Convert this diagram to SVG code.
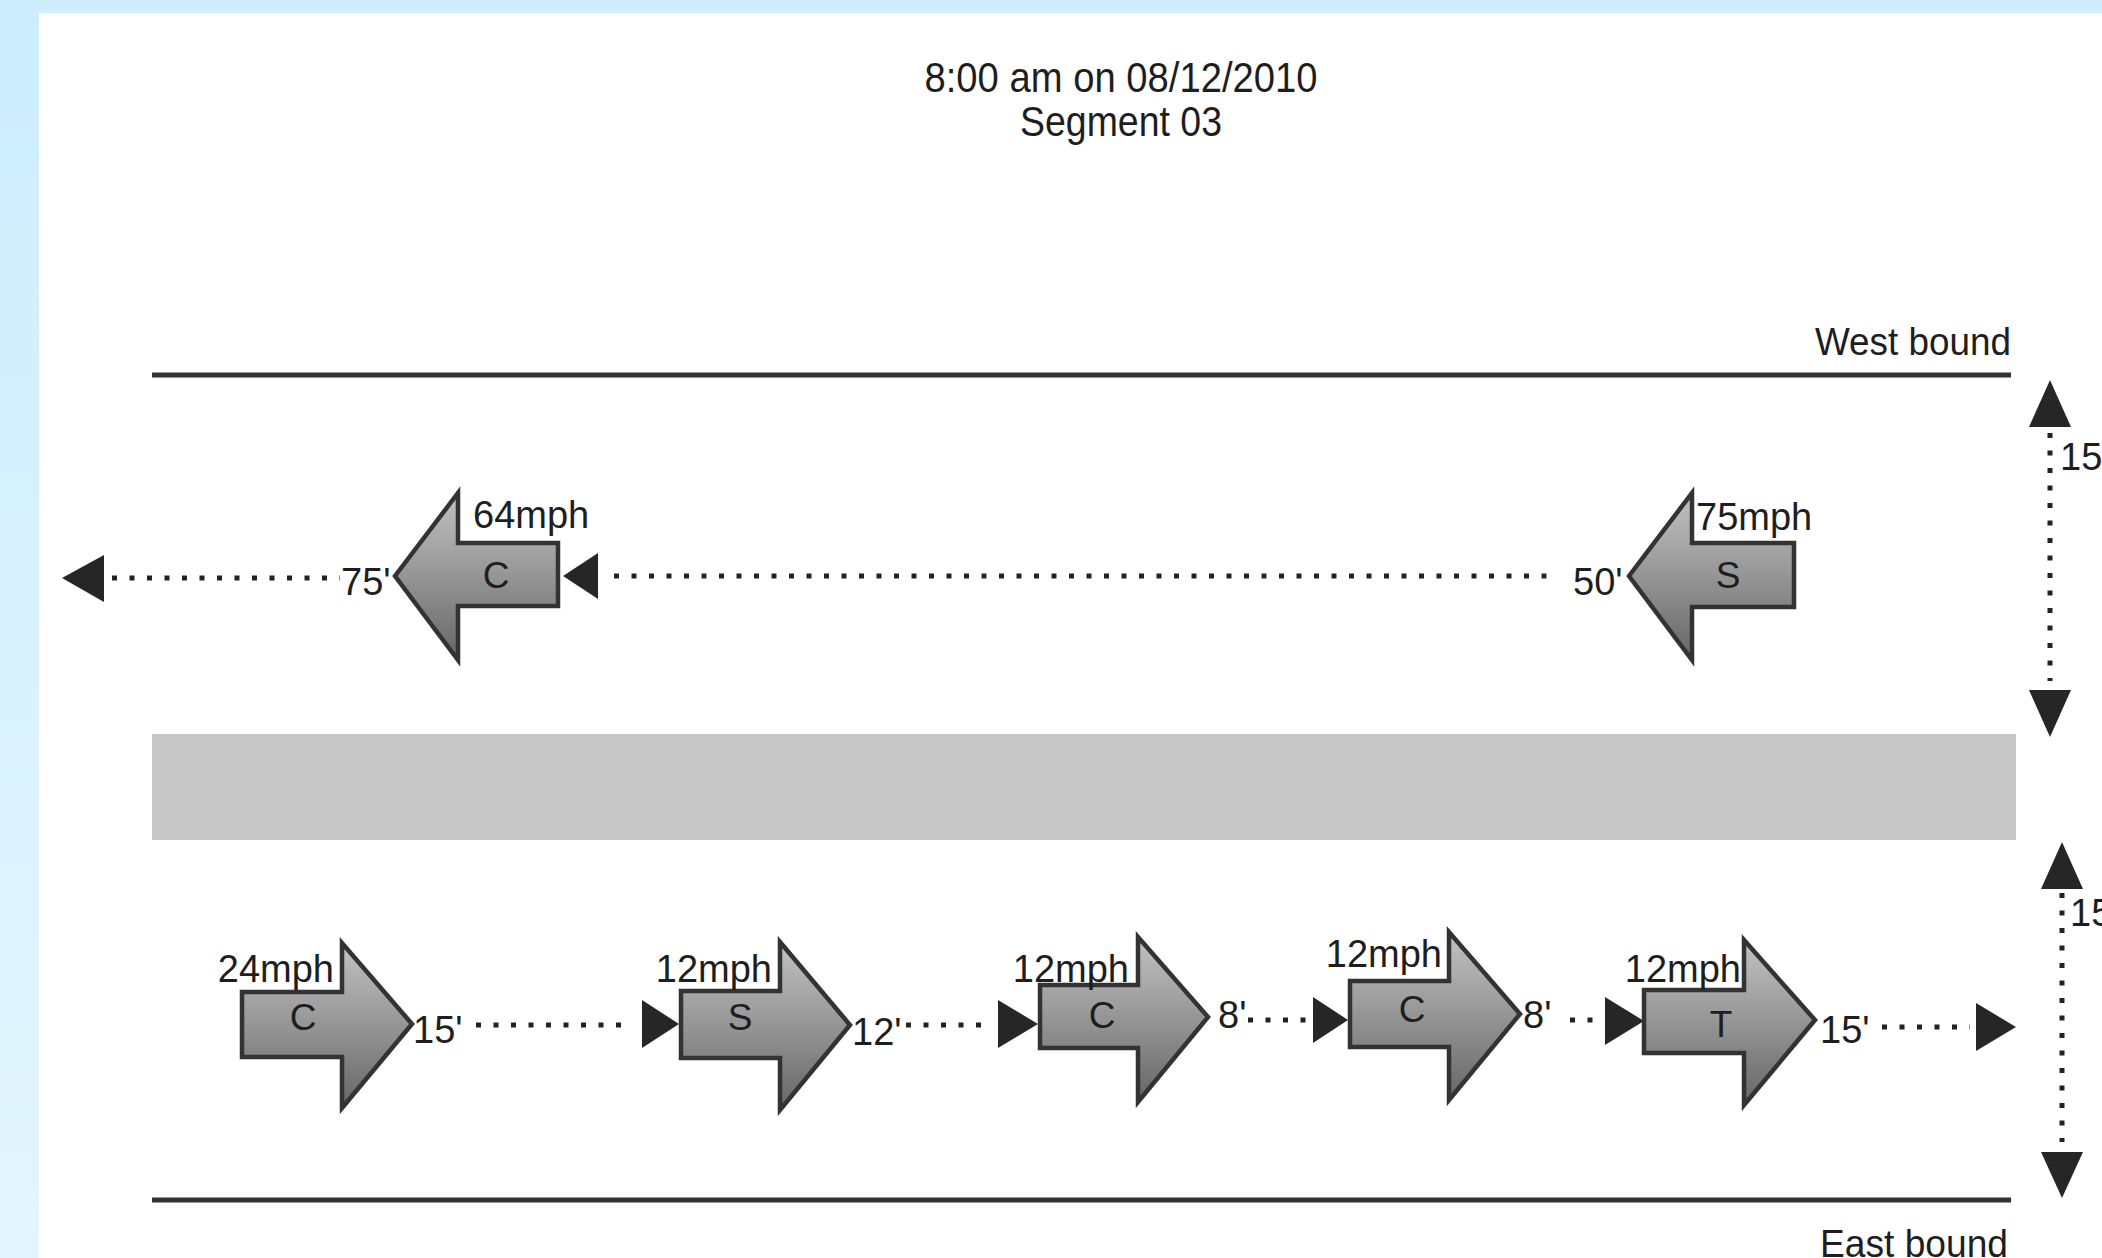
<svg xmlns="http://www.w3.org/2000/svg" width="2102" height="1258" viewBox="0 0 2102 1258">
<defs>
<linearGradient id="carFill" x1="0" y1="0" x2="0" y2="1">
<stop offset="0" stop-color="#c2c2c2"/>
<stop offset="0.5" stop-color="#959595"/>
<stop offset="1" stop-color="#666666"/>
</linearGradient>
<linearGradient id="sideBand" x1="0" y1="0" x2="0" y2="1">
<stop offset="0" stop-color="#cdedfd"/>
<stop offset="1" stop-color="#e3f5fd"/>
</linearGradient>
<style>
text{font-family:"Liberation Sans",Arial,sans-serif;fill:#1e1e1e;}
.t{font-size:38px;}
.lbl{font-size:37px;}
.car{fill:url(#carFill);stroke:#333;stroke-width:4.5;stroke-linejoin:miter;}
.edge{stroke:#333;stroke-width:5;fill:none;}
.dots{stroke:#222;stroke-width:5;stroke-dasharray:5 12.5;fill:none;}
.head{fill:#262626;}
</style>
</defs>
<rect x="0" y="0" width="2102" height="1258" fill="#ffffff"/>
<rect x="0" y="0" width="2102" height="13" fill="#cfeefd"/>
<rect x="0" y="0" width="39" height="1258" fill="url(#sideBand)"/>

<g id="title">
<text x="1121" y="92" text-anchor="middle" font-size="42" textLength="393" lengthAdjust="spacingAndGlyphs">8:00 am  on 08/12/2010</text>
<text x="1121" y="136" text-anchor="middle" font-size="42" textLength="202" lengthAdjust="spacingAndGlyphs">Segment 03</text>
</g>

<g id="road">
<line class="edge" x1="152" y1="375" x2="2011" y2="375"/>
<rect id="median" x="152" y="734" width="1864" height="106" fill="#c8c8c8"/>
<line class="edge" x1="152" y1="1200" x2="2011" y2="1200"/>
<text class="t" x="2011" y="355" text-anchor="end" textLength="196" lengthAdjust="spacingAndGlyphs">West bound</text>
<text class="t" x="2008" y="1257" text-anchor="end" textLength="188" lengthAdjust="spacingAndGlyphs">East bound</text>
</g>

<g id="connectors">
<line class="dots" x1="112" y1="578" x2="340" y2="578"/>
<polygon class="head" points="62,578 104,555 104,602"/>
<line class="dots" x1="614" y1="576" x2="1553" y2="576"/>
<polygon class="head" points="563,576 598,553 598,599"/>
<line class="dots" x1="476" y1="1025" x2="629" y2="1025"/>
<polygon class="head" points="642,1000 679,1024 642,1048"/>
<line class="dots" x1="906" y1="1025" x2="985" y2="1025"/>
<polygon class="head" points="998,1000 1038,1024 998,1048"/>
<line class="dots" x1="1248" y1="1020" x2="1306" y2="1020"/>
<polygon class="head" points="1313,997 1348,1020 1313,1043"/>
<line class="dots" x1="1570" y1="1020" x2="1593" y2="1020"/>
<polygon class="head" points="1605,997 1644,1021 1605,1045"/>
<line class="dots" x1="1882" y1="1027" x2="1970" y2="1027"/>
<polygon class="head" points="1976,1003 2016,1027 1976,1051"/>
<line class="dots" x1="2050" y1="433" x2="2050" y2="681"/>
<polygon class="head" points="2050,380 2029,427 2071,427"/>
<polygon class="head" points="2029,690 2071,690 2050,737"/>
<line class="dots" x1="2062" y1="893" x2="2062" y2="1142"/>
<polygon class="head" points="2062,842 2041,889 2083,889"/>
<polygon class="head" points="2041,1152 2083,1152 2062,1198"/>
<text class="t" x="341" y="595">75'</text>
<text class="t" x="1573" y="595">50'</text>
<text class="t" x="413" y="1043">15'</text>
<text class="t" x="852" y="1045">12'</text>
<text class="t" x="1218" y="1028">8'</text>
<text class="t" x="1523" y="1028">8'</text>
<text class="t" x="1820" y="1043">15'</text>
<text class="t" x="2060" y="470">15</text>
<text class="t" x="2070" y="926">15</text>
</g>

<g id="car-w1">
<polygon class="car" points="395,576 458,493 458,543 558,543 558,606 458,606 458,660"/>
<text class="t" x="473" y="528">64mph</text>
<text class="lbl" x="496" y="588" text-anchor="middle">C</text>
</g>
<g id="car-w2">
<polygon class="car" points="1629,576 1692,493 1692,543 1794,543 1794,607 1692,607 1692,660"/>
<text class="t" x="1696" y="530">75mph</text>
<text class="lbl" x="1728" y="588" text-anchor="middle">S</text>
</g>
<g id="car-e1">
<polygon class="car" points="242,992 342,992 342,943 412,1024 342,1108 342,1057 242,1057"/>
<text class="t" x="334" y="982" text-anchor="end">24mph</text>
<text class="lbl" x="303" y="1030" text-anchor="middle">C</text>
</g>
<g id="car-e2">
<polygon class="car" points="681,991 780,991 780,942 850,1025 780,1110 780,1058 681,1058"/>
<text class="t" x="772" y="982" text-anchor="end">12mph</text>
<text class="lbl" x="740" y="1030" text-anchor="middle">S</text>
</g>
<g id="car-e3">
<polygon class="car" points="1040,985 1138,985 1138,937 1208,1017 1138,1102 1138,1048 1040,1048"/>
<text class="t" x="1129" y="982" text-anchor="end">12mph</text>
<text class="lbl" x="1102" y="1028" text-anchor="middle">C</text>
</g>
<g id="car-e4">
<polygon class="car" points="1350,981 1449,981 1449,932 1520,1014 1449,1100 1449,1047 1350,1047"/>
<text class="t" x="1442" y="967" text-anchor="end">12mph</text>
<text class="lbl" x="1412" y="1022" text-anchor="middle">C</text>
</g>
<g id="car-e5">
<polygon class="car" points="1644,990 1744,990 1744,940 1815,1020 1744,1105 1744,1053 1644,1053"/>
<text class="t" x="1741" y="982" text-anchor="end">12mph</text>
<text class="lbl" x="1721" y="1037" text-anchor="middle">T</text>
</g>
</svg>
